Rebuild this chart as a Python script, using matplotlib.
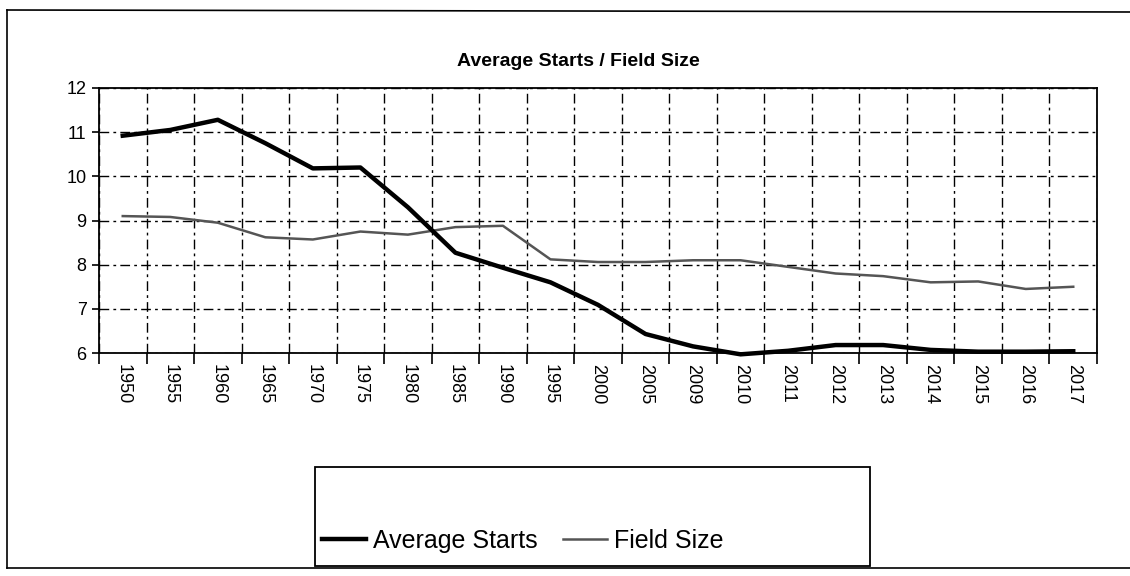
import numpy as np
import matplotlib
matplotlib.use("Agg")
import matplotlib.pyplot as plt
from matplotlib.lines import Line2D
from matplotlib.patches import Rectangle

plt.rcParams['font.family'] = ['Liberation Sans', 'DejaVu Sans']

years = ["1950", "1955", "1960", "1965", "1970", "1975", "1980", "1985", "1990",
         "1995", "2000", "2005", "2009", "2010", "2011", "2012", "2013", "2014",
         "2015", "2016", "2017"]
average_starts = [10.92, 11.05, 11.28, 10.75, 10.18, 10.2, 9.3, 8.27, 7.93, 7.6,
                  7.09, 6.43, 6.15, 5.97, 6.05, 6.18, 6.18, 6.07, 6.03, 6.03, 6.04]
field_size = [9.1, 9.08, 8.95, 8.62, 8.57, 8.75, 8.68, 8.85, 8.88, 8.12, 8.06,
              8.06, 8.1, 8.1, 7.95, 7.8, 7.74, 7.6, 7.62, 7.45, 7.5]
y_ticks = [6, 7, 8, 9, 10, 11, 12]

W, H = 1130, 576
fig = plt.figure(figsize=(W / 100, H / 100), dpi=100)
fig.patch.set_facecolor('white')

# outer chart border
fig.add_artist(Line2D([7 / W, 7 / W], [1 - 10 / H, 1 - 568 / H], color='black', lw=1.2))
fig.add_artist(Line2D([7 / W, 1.0], [1 - 10 / H, 1 - 12 / H], color='black', lw=1.2))
fig.add_artist(Line2D([7 / W, 1.0], [1 - 568 / H, 1 - 568 / H], color='black', lw=1.2))

left, right, top, bottom = 99, 1097, 88, 353
ax = fig.add_axes([left / W, 1 - bottom / H, (right - left) / W, (bottom - top) / H])

x = np.arange(len(years))
ax.plot(x, average_starts, color='black', lw=3.2, solid_joinstyle='round',
        label='Average Starts', clip_on=False, zorder=4)
ax.plot(x, field_size, color='#555555', lw=1.8, label='Field Size', zorder=3)

ax.set_xlim(-0.5, len(years) - 0.5)
ax.set_ylim(6, 12)
ax.set_yticks(y_ticks)
ax.set_yticklabels([str(v) for v in y_ticks], fontsize=13)
ax.set_xticks(x)
ax.set_xticklabels(years, rotation=-90, fontsize=13)
ax.set_xticks(np.arange(-0.5, len(years), 1), minor=True)
ax.tick_params(axis='x', which='major', length=0, pad=8)
ax.tick_params(axis='x', which='minor', length=8, width=1.2, direction='out', color='black')
ax.tick_params(axis='y', which='major', length=5, width=1.2, pad=4)

ax.grid(True, axis='y', which='major', color='black', lw=1.0, ls=(0, (7, 3, 2, 3)))
ax.grid(True, axis='x', which='minor', color='black', lw=1.0, ls=(0, (7, 3, 2, 3)))
ax.set_axisbelow(True)
for s in ax.spines.values():
    s.set_color('black')
    s.set_linewidth(1.3)

fig.text(578 / W, 1 - 62 / H, 'Average Starts / Field Size', ha='center', va='center',
         fontsize=14, fontweight='bold')

# legend
leg = fig.legend(loc='center left', bbox_to_anchor=(322 / W, 1 - 541 / H), ncol=2,
                 frameon=False, fontsize=18, handlelength=1.75, handletextpad=0.3,
                 columnspacing=1.0, borderaxespad=0, borderpad=0)
fig.add_artist(Rectangle((315 / W, 1 - 566 / H), (870 - 315) / W, (566 - 467) / H,
                         transform=fig.transFigure, fill=False, edgecolor='black', lw=1.3))

fig.savefig('out.png', dpi=100, facecolor='white')
